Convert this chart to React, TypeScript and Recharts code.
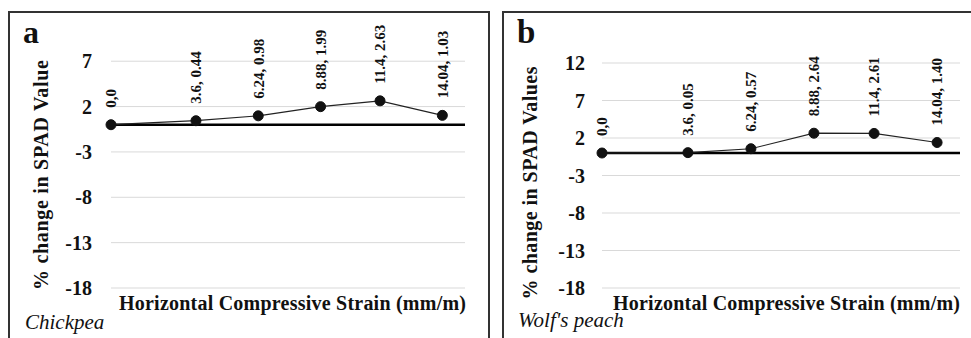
import React from 'react';
import { LineChart, Line, XAxis, YAxis, CartesianGrid, ReferenceLine, LabelList } from 'recharts';

// Horizontal compressive strain (mm/m), shared by both panels
const strain = [0, 3.6, 6.24, 8.88, 11.4, 14.04];

// % change in SPAD values
const chickpeaSpad = [0, 0.44, 0.98, 1.99, 2.63, 1.03];
const wolfsPeachSpad = [0, 0.05, 0.57, 2.64, 2.61, 1.4];

const xTicks = [0, 5, 10, 15];
const chickpeaYTicks = [-18, -13, -8, -3, 2, 7];
const wolfsPeachYTicks = [-18, -13, -8, -3, 2, 7, 12];

const SERIF = 'Liberation Serif';

const fmtPoint = (x: number, y: number) => (x === 0 && y === 0 ? '0,0' : `${x}, ${y.toFixed(2)}`);

const buildRows = (ys: number[]) =>
  strain.map((x, i) => ({ x, y: ys[i], label: fmtPoint(x, ys[i]) }));

// vertical data label sitting above each marker
const PointLabel = (props: any) => {
  const { x, y, value } = props;
  const ax = Number(x);
  const ay = Number(y) - 17;
  return (
    <text
      x={ax}
      y={ay}
      dy="0.36em"
      transform={`rotate(-90 ${ax} ${ay})`}
      textAnchor="start"
      fontFamily={SERIF}
      fontWeight="bold"
      fontSize={15}
      fill="#111"
    >
      {value}
    </text>
  );
};

interface PanelProps {
  left: number;
  width: number;
  ys: number[];
  yDomain: [number, number];
  yTicks: number[];
  margin: { top: number; right: number; left: number; bottom: number };
  yAxisWidth: number;
  tickGap: number;
}

const YTick = (props: any) => {
  const { x, y, payload } = props;
  return (
    <text x={x} y={y} dy="0.35em" textAnchor="end" fontFamily={SERIF} fontWeight="bold" fontSize={20} fill="#111">
      {payload.value}
    </text>
  );
};

const Panel: React.FC<PanelProps> = ({ left, width, ys, yDomain, yTicks, margin, yAxisWidth, tickGap }) => (
  <div style={{ position: 'absolute', left, top: 0 }}>
    <LineChart width={width} height={338} data={buildRows(ys)} margin={margin}>
      <CartesianGrid stroke="#d9d9d9" strokeWidth={1} horizontalValues={yTicks} verticalValues={xTicks} />
      <XAxis
        dataKey="x"
        type="number"
        domain={[0, 15]}
        ticks={xTicks}
        tick={false}
        axisLine={false}
        tickLine={false}
        height={50}
      />
      <YAxis
        type="number"
        domain={yDomain}
        ticks={yTicks}
        interval={0}
        width={yAxisWidth}
        axisLine={false}
        tickLine={false}
        tickSize={0}
        tickMargin={tickGap}
        allowDataOverflow
        tick={YTick}
      />
      <ReferenceLine y={0} stroke="#000" strokeWidth={2.6} />
      <Line
        dataKey="y"
        type="linear"
        stroke="#222"
        strokeWidth={1.2}
        dot={{ r: 5, fill: '#111', stroke: '#111', strokeWidth: 1 }}
        isAnimationActive={false}
      >
        <LabelList dataKey="label" content={PointLabel} />
      </Line>
    </LineChart>
  </div>
);

export default function App() {
  return (
    <div style={{ position: 'absolute', left: 0, top: 0, width: 971, height: 338, background: '#fff', overflow: 'hidden' }}>
      {/* panel frames */}
      <div style={{ position: 'absolute', left: 8, top: 11, width: 478, height: 340, border: '2px solid #333' }} />
      <div style={{ position: 'absolute', left: 502, top: 11, width: 480, height: 340, border: '2px solid #333' }} />

      <Panel
        left={0}
        width={488}
        ys={chickpeaSpad}
        yDomain={[-18, 10]}
        yTicks={chickpeaYTicks}
        margin={{ top: 34, right: 23, left: 0, bottom: 0 }}
        yAxisWidth={111}
        tickGap={19}
      />
      <Panel
        left={490}
        width={481}
        ys={wolfsPeachSpad}
        yDomain={[-18, 16]}
        yTicks={wolfsPeachYTicks}
        margin={{ top: 33, right: 11, left: 0, bottom: 0 }}
        yAxisWidth={112}
        tickGap={17}
      />

      {/* titles, panel letters and crop names */}
      <svg width={971} height={338} style={{ position: 'absolute', left: 0, top: 0, pointerEvents: 'none' }}>
        <text x={23} y={43} fontFamily={SERIF} fill="#111" fontSize={32} fontWeight="bold">a</text>
        <text x={517} y={43} fontFamily={SERIF} fill="#111" fontSize={33} fontWeight="bold">b</text>

        <text
          x={48} y={175}
          transform="rotate(-90 48 175)"
          textAnchor="middle"
          fontFamily={SERIF}
          fill="#111"
          fontSize={20}
          fontWeight="bold"
          textLength={230}
          lengthAdjust="spacing"
        >
          % change in SPAD Value
        </text>
        <text
          x={537} y={183}
          transform="rotate(-90 537 183)"
          textAnchor="middle"
          fontFamily={SERIF}
          fill="#111"
          fontSize={20}
          fontWeight="bold"
          textLength={233}
          lengthAdjust="spacing"
        >
          % change in SPAD Values
        </text>

        <text x={119} y={310} fontFamily={SERIF} fill="#111" fontSize={20} fontWeight="bold" textLength={347} lengthAdjust="spacing">
          Horizontal Compressive Strain (mm/m)
        </text>
        <text x={613} y={310} fontFamily={SERIF} fill="#111" fontSize={20} fontWeight="bold" textLength={347} lengthAdjust="spacing">
          Horizontal Compressive Strain (mm/m)
        </text>

        <text x={25} y={329} fontFamily={SERIF} fill="#111" fontSize={21} fontStyle="italic">Chickpea</text>
        <text x={518} y={327} fontFamily={SERIF} fill="#111" fontSize={21} fontStyle="italic">Wolf's peach</text>
      </svg>
    </div>
  );
}
